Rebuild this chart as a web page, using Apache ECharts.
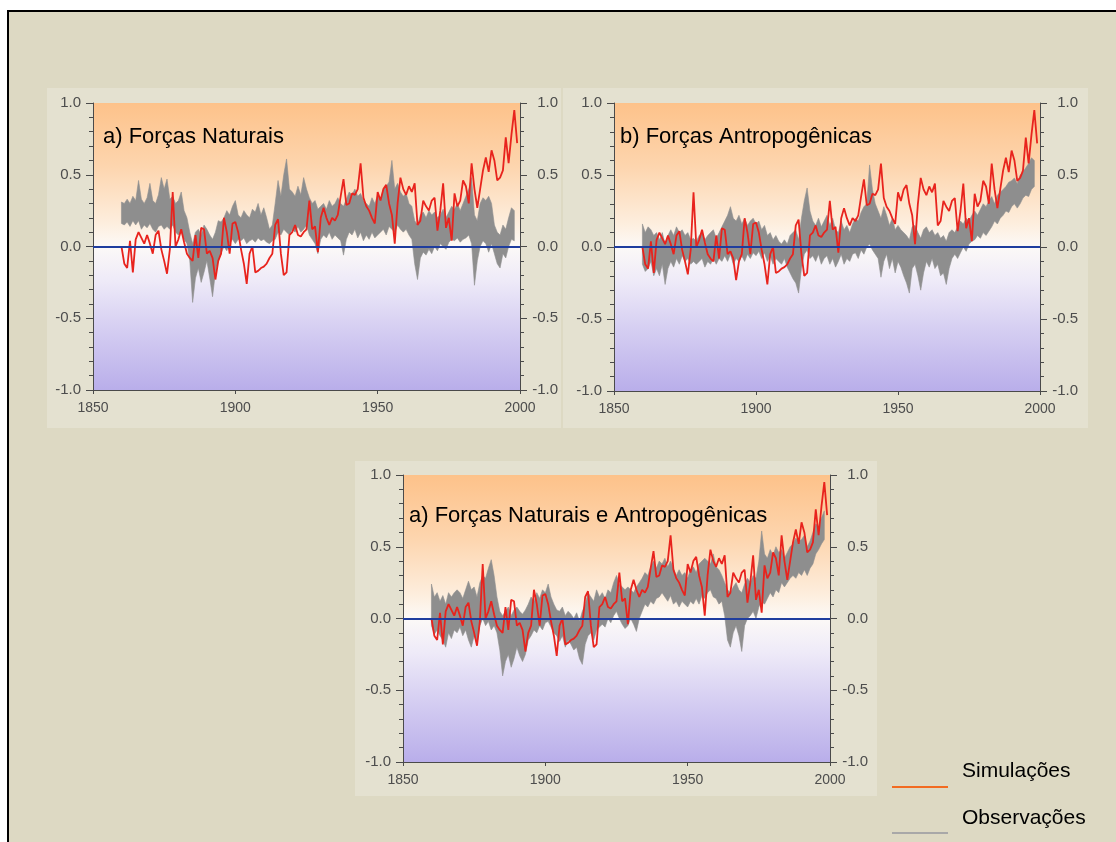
<!DOCTYPE html>
<html><head><meta charset="utf-8">
<script src="https://cdn.jsdelivr.net/npm/echarts@6/dist/echarts.min.js"></script>
<style>html,body{margin:0;padding:0;background:#fff}#c{width:1116px;height:842px}</style>
</head><body><div id="c"></div>
<script>
// ---- data ----
const FIRST_YEAR = 1860;
const X_TICKS = [1850, 1900, 1950, 2000];
const Y_TICKS = [-1.0, -0.5, 0.0, 0.5, 1.0];

// red line (Simulações), 1860-1999
const sim = [
 0.00,-0.12,-0.15,0.04,-0.18,0.05,0.10,0.06,0.02,0.08,
 0.02,-0.05,0.08,0.11,-0.02,-0.10,-0.19,-0.02,0.38,0.00,
 0.05,0.12,0.03,-0.05,-0.08,-0.10,0.08,-0.08,0.13,0.12,
 -0.05,-0.03,-0.08,-0.23,-0.10,-0.05,0.20,0.10,-0.05,0.16,
 0.17,0.10,-0.02,-0.12,-0.26,-0.05,0.00,-0.18,-0.17,-0.15,
 -0.14,-0.12,-0.08,-0.05,0.15,0.19,-0.05,-0.20,-0.18,0.08,
 0.10,0.15,0.08,0.07,0.10,0.12,0.32,0.12,0.14,-0.04,
 0.20,0.27,0.20,0.15,0.20,0.18,0.22,0.35,0.47,0.29,
 0.30,0.37,0.36,0.40,0.58,0.34,0.28,0.25,0.20,0.16,
 0.38,0.32,0.40,0.43,0.30,0.22,0.02,0.30,0.48,0.40,
 0.36,0.42,0.38,0.44,0.15,0.18,0.32,0.28,0.25,0.32,
 0.34,0.11,0.25,0.44,0.13,0.20,0.04,0.37,0.28,0.32,
 0.46,0.42,0.30,0.58,0.40,0.27,0.40,0.53,0.62,0.52,
 0.67,0.60,0.46,0.48,0.53,0.76,0.58,0.78,0.95,0.72
];

// grey band (Observações), 1860-1998 — panel a) Forças Naturais
const natLo = [
 0.16,0.15,0.17,0.14,0.18,0.15,0.18,0.12,0.15,0.13,
 0.16,0.12,0.10,0.14,0.15,0.12,0.14,0.12,0.15,0.10,
 0.08,0.10,0.05,0.02,-0.10,-0.39,-0.22,-0.15,-0.25,-0.18,
 -0.10,-0.22,-0.35,-0.18,-0.10,-0.05,0.00,-0.03,0.02,0.05,
 0.02,0.05,0.04,0.06,0.02,0.04,0.05,0.03,0.06,0.04,
 0.05,0.03,0.02,0.04,0.05,0.10,0.08,0.12,0.10,0.08,
 0.12,0.10,0.14,0.10,0.12,0.15,0.08,0.05,0.02,-0.05,
 0.05,0.08,0.06,0.10,0.05,0.08,0.06,0.04,-0.06,0.05,
 0.10,0.08,0.12,0.06,0.10,0.04,0.08,0.05,0.10,0.06,
 0.08,0.10,0.12,0.08,0.14,0.12,0.10,0.15,0.12,0.10,
 0.12,0.08,0.05,-0.12,-0.23,-0.08,-0.04,-0.06,-0.02,-0.05,
 0.00,-0.03,0.02,0.00,-0.02,0.03,0.05,0.04,0.06,0.03,
 0.05,0.06,0.08,0.02,-0.27,-0.10,0.00,0.04,0.02,-0.04,
 0.02,-0.05,-0.12,-0.15,-0.05,-0.08,0.00,0.05,0.04
];
const natHi = [
 0.31,0.30,0.33,0.30,0.35,0.32,0.46,0.33,0.30,0.34,
 0.44,0.32,0.30,0.36,0.48,0.40,0.47,0.33,0.35,0.30,
 0.32,0.38,0.25,0.20,0.10,0.02,0.10,0.12,0.08,0.15,
 0.12,0.08,0.05,0.10,0.18,0.17,0.20,0.25,0.22,0.28,
 0.32,0.22,0.20,0.25,0.22,0.20,0.26,0.24,0.30,0.22,
 0.27,0.20,0.12,0.15,0.30,0.46,0.35,0.50,0.61,0.40,
 0.38,0.35,0.42,0.36,0.48,0.40,0.34,0.30,0.32,0.26,
 0.28,0.30,0.26,0.32,0.28,0.30,0.34,0.30,0.28,0.33,
 0.38,0.36,0.40,0.35,0.37,0.32,0.30,0.28,0.34,0.30,
 0.36,0.33,0.40,0.42,0.45,0.60,0.40,0.44,0.38,0.35,
 0.37,0.30,0.28,0.18,0.15,0.22,0.24,0.20,0.25,0.22,
 0.24,0.20,0.22,0.26,0.20,0.24,0.28,0.26,0.30,0.25,
 0.30,0.35,0.40,0.48,0.22,0.18,0.30,0.34,0.32,0.35,
 0.30,0.15,0.10,0.08,0.15,0.12,0.20,0.27,0.25
];

// panel b) Forças Antropogênicas
const antLo = [
 -0.12,-0.17,-0.15,-0.10,-0.20,-0.15,-0.20,-0.12,-0.26,-0.15,
 -0.10,-0.14,-0.08,-0.12,-0.06,-0.10,-0.08,-0.12,-0.10,-0.12,
 -0.10,-0.08,-0.14,-0.10,-0.12,-0.08,-0.12,-0.08,-0.10,-0.06,
 -0.10,-0.05,-0.12,-0.08,-0.10,-0.06,-0.10,-0.05,-0.08,-0.04,
 -0.06,-0.03,-0.08,-0.04,-0.10,-0.06,-0.12,-0.08,-0.10,-0.12,
 -0.08,-0.14,-0.18,-0.22,-0.25,-0.32,-0.15,-0.05,-0.02,-0.08,
 -0.06,-0.10,-0.05,-0.12,-0.08,-0.06,-0.12,-0.08,-0.14,-0.10,
 -0.05,-0.12,-0.08,-0.10,-0.05,-0.04,-0.08,-0.02,-0.05,0.00,
 0.02,-0.02,-0.05,-0.08,-0.21,-0.10,-0.05,-0.15,-0.08,-0.18,
 -0.10,-0.14,-0.20,-0.25,-0.32,-0.15,-0.12,-0.20,-0.30,-0.18,
 -0.10,-0.14,-0.08,-0.15,-0.12,-0.20,-0.18,-0.26,-0.15,-0.08,
 -0.05,-0.08,-0.04,0.00,-0.03,0.02,0.04,0.05,0.08,0.06,
 0.10,0.08,0.11,0.14,0.18,0.16,0.20,0.22,0.25,0.24,
 0.28,0.30,0.27,0.30,0.34,0.36,0.35,0.40,0.42
];
const antHi = [
 0.16,0.10,0.14,0.12,0.08,0.10,0.05,0.10,0.02,0.08,
 0.12,0.08,0.14,0.10,0.12,0.08,0.10,0.05,0.06,0.04,
 0.08,0.10,0.05,0.08,0.10,0.12,0.06,0.10,0.14,0.18,
 0.22,0.28,0.20,0.18,0.22,0.16,0.20,0.15,0.18,0.20,
 0.16,0.18,0.12,0.15,0.08,0.10,0.05,0.08,0.04,0.02,
 0.05,0.02,0.08,0.10,0.12,0.05,0.20,0.32,0.41,0.25,
 0.18,0.15,0.20,0.14,0.18,0.22,0.15,0.20,0.12,0.10,
 0.18,0.12,0.15,0.10,0.16,0.20,0.18,0.24,0.28,0.30,
 0.57,0.40,0.30,0.25,0.20,0.28,0.22,0.15,0.20,0.12,
 0.15,0.12,0.10,0.08,0.05,0.14,0.15,0.10,0.06,0.12,
 0.14,0.10,0.12,0.08,0.10,0.06,0.08,0.04,0.10,0.12,
 0.10,0.14,0.18,0.16,0.20,0.18,0.22,0.25,0.22,0.26,
 0.30,0.28,0.32,0.35,0.30,0.36,0.38,0.40,0.42,0.45,
 0.46,0.48,0.44,0.50,0.52,0.55,0.58,0.62,0.60
];

// panel a) Forças Naturais e Antropogênicas
const allLo = [
 -0.05,-0.11,-0.08,-0.12,-0.15,-0.20,-0.10,-0.14,-0.08,-0.10,
 -0.06,-0.12,-0.08,-0.15,-0.20,-0.12,-0.18,-0.05,0.00,-0.05,
 -0.02,-0.08,-0.05,-0.10,-0.22,-0.40,-0.30,-0.25,-0.34,-0.28,
 -0.20,-0.26,-0.30,-0.25,-0.15,-0.12,-0.08,-0.10,-0.05,-0.08,
 -0.03,-0.02,-0.06,-0.10,-0.12,-0.16,-0.12,-0.20,-0.15,-0.18,
 -0.22,-0.20,-0.28,-0.32,-0.18,-0.12,-0.10,-0.15,-0.08,-0.06,
 -0.04,-0.06,0.00,-0.03,0.02,0.05,0.00,-0.04,-0.07,-0.05,
 0.00,-0.04,-0.09,0.00,0.05,0.10,0.08,0.12,0.10,0.14,
 0.15,0.18,0.15,0.12,0.16,0.10,0.12,0.08,0.12,0.10,
 0.08,0.12,0.10,0.14,0.10,0.16,0.14,0.18,0.20,0.15,
 0.14,0.10,0.12,0.02,-0.15,-0.20,-0.10,-0.05,-0.12,-0.23,
 -0.05,0.00,0.02,0.05,0.00,0.08,0.12,0.10,0.14,0.18,
 0.15,0.20,0.18,0.25,0.22,0.25,0.28,0.30,0.28,0.32,
 0.30,0.34,0.30,0.35,0.38,0.45,0.48,0.52,0.55
];
const allHi = [
 0.24,0.15,0.18,0.12,0.16,0.10,0.18,0.15,0.18,0.20,
 0.18,0.14,0.20,0.26,0.20,0.22,0.15,0.25,0.30,0.28,
 0.35,0.41,0.30,0.15,0.05,0.02,0.05,0.08,0.02,0.06,
 0.08,0.05,0.03,0.06,0.10,0.15,0.12,0.18,0.14,0.20,
 0.18,0.24,0.15,0.10,0.06,0.05,0.08,0.02,0.05,0.03,
 0.00,0.04,-0.02,0.05,0.10,0.18,0.15,0.12,0.20,0.15,
 0.18,0.14,0.20,0.18,0.25,0.30,0.24,0.22,0.20,0.22,
 0.20,0.18,0.22,0.25,0.28,0.32,0.30,0.36,0.40,0.35,
 0.40,0.38,0.42,0.36,0.40,0.35,0.30,0.34,0.30,0.32,
 0.28,0.34,0.36,0.32,0.38,0.40,0.42,0.40,0.38,0.45,
 0.36,0.34,0.30,0.25,0.20,0.18,0.22,0.25,0.20,0.18,
 0.24,0.28,0.25,0.30,0.28,0.40,0.61,0.45,0.42,0.48,
 0.44,0.50,0.46,0.48,0.42,0.46,0.50,0.52,0.56,0.54,
 0.55,0.58,0.50,0.54,0.60,0.66,0.64,0.70,0.75
];

const TITLES = ['a) Forças Naturais', 'b) Forças Antropogênicas', 'a) Forças Naturais e Antropogênicas'];
const LEGEND = ['Simulações', 'Observações'];

// ---- layout / style ----
const FONT = "'Liberation Sans', Arial, Helvetica, sans-serif";
const PANELS = [
  {grid:{left:93, top:103, width:427, height:287}, lo:natLo, hi:natHi, title:TITLES[0], tx:103, ty:138, bg:[47,88,514,340]},
  {grid:{left:614, top:103, width:426, height:288}, lo:antLo, hi:antHi, title:TITLES[1], tx:620, ty:138, bg:[563,88,525,340]},
  {grid:{left:403, top:475, width:427, height:287}, lo:allLo, hi:allHi, title:TITLES[2], tx:409, ty:517, bg:[355,461,522,335]}
];

const pts = arr => arr.map((v, i) => [FIRST_YEAR + i, v]);
const bandRows = (lo, hi) => lo.map((v, i) => [FIRST_YEAR + i, v, hi[i]]);

const bgGrad = new echarts.graphic.LinearGradient(0, 0, 0, 1, [
  {offset:0, color:'#fdc28a'},
  {offset:0.22, color:'#fdd5ae'},
  {offset:0.42, color:'#fdeede'},
  {offset:0.5, color:'#fcf9f7'},
  {offset:0.62, color:'#eeeaf8'},
  {offset:0.78, color:'#d6cff2'},
  {offset:1, color:'#b9aeea'}
]);

const AX = '#4a4a4a';
const labelStyle = {fontSize:15, color:'#4d4d4d', fontFamily:FONT};

// band polygon drawn through the axis scales (api.coord)
function bandRenderer(params, api) {
  if (params.dataIndexInside !== 0) return null;
  const n = params.dataInsideLength;
  const top = [], bottom = [];
  for (let k = 0; k < n; k++) {
    const x = api.value(0, k);
    top.push(api.coord([x, api.value(2, k)]));
    bottom.push(api.coord([x, api.value(1, k)]));
  }
  return {type:'polygon', shape:{points: top.concat(bottom.reverse())},
    style:{fill:'#8e8e8e', stroke:'#8e8e8e', lineWidth:0.6}};
}

const grids = [], xAxes = [], yAxes = [], series = [], graphics = [];

graphics.push({type:'rect', z:-10, shape:{x:8, y:11, width:1120, height:840},
  style:{fill:'#ddd9c3', stroke:'#000', lineWidth:2}});

PANELS.forEach((p, i) => {
  graphics.push({type:'rect', z:-9, shape:{x:p.bg[0], y:p.bg[1], width:p.bg[2], height:p.bg[3]},
    style:{fill:'#e4e1d0'}});
  grids.push(Object.assign({show:true, backgroundColor:bgGrad, borderWidth:0}, p.grid));
  xAxes.push({gridIndex:i, type:'value', min:X_TICKS[0], max:X_TICKS[X_TICKS.length-1], interval:50,
    axisLine:{show:true, onZero:false, lineStyle:{color:AX, width:1}},
    axisTick:{show:true, length:4, lineStyle:{color:AX}},
    axisLabel:{fontSize:14, color:'#4d4d4d', fontFamily:FONT, margin:11, formatter:v => String(v)},
    splitLine:{show:false}});
  const yBase = {gridIndex:i, type:'value', min:Y_TICKS[0], max:Y_TICKS[Y_TICKS.length-1], interval:0.5,
    axisLine:{show:true, onZero:false, lineStyle:{color:AX, width:1}},
    axisTick:{show:true, length:7, lineStyle:{color:AX}},
    minorTick:{show:true, splitNumber:5, length:4, lineStyle:{color:AX}},
    splitLine:{show:false}, minorSplitLine:{show:false}};
  yAxes.push(Object.assign({}, yBase, {position:'left',
    axisLabel:Object.assign({margin:12, formatter:v => v.toFixed(1)}, labelStyle)}));
  yAxes.push(Object.assign({}, yBase, {position:'right',
    axisLabel:Object.assign({margin:38, align:'right', formatter:v => v.toFixed(1)}, labelStyle)}));

  series.push({type:'custom', name:LEGEND[1], xAxisIndex:i, yAxisIndex:2*i,
    data:bandRows(p.lo, p.hi), encode:{x:0, y:[1, 2]}, renderItem:bandRenderer,
    silent:true, clip:true, z:2});
  series.push({type:'line', name:'zero'+i, xAxisIndex:i, yAxisIndex:2*i, data:[], z:3,
    markLine:{silent:true, symbol:'none', label:{show:false},
      lineStyle:{color:'#1f3d9e', width:2, type:'solid'}, data:[{yAxis:0}]}});
  series.push({type:'line', name:LEGEND[0], xAxisIndex:i, yAxisIndex:2*i, data:pts(sim),
    symbol:'none', lineStyle:{color:'#e8231d', width:1.8}, silent:true, z:4});

  graphics.push({type:'text', z:50, left:p.tx, top:p.ty - 12,
    style:{text:p.title, fontSize:22, fontFamily:FONT, fill:'#000'}});
});

// legend (drawn as graphic)
graphics.push({type:'line', z:50, shape:{x1:892, y1:787, x2:948, y2:787}, style:{stroke:'#f26b21', lineWidth:2}});
graphics.push({type:'line', z:50, shape:{x1:892, y1:833, x2:948, y2:833}, style:{stroke:'#a8a8a8', lineWidth:2}});
graphics.push({type:'text', z:50, left:962, top:761, style:{text:LEGEND[0], fontSize:21, fontFamily:FONT, fill:'#000'}});
graphics.push({type:'text', z:50, left:962, top:808, style:{text:LEGEND[1], fontSize:21, fontFamily:FONT, fill:'#000'}});

const chart = echarts.init(document.getElementById('c'), null, {renderer:'canvas'});
chart.setOption({
  backgroundColor:'#ffffff',
  animation:false,
  grid:grids, xAxis:xAxes, yAxis:yAxes, series:series,
  graphic:graphics
});
</script></body></html>
